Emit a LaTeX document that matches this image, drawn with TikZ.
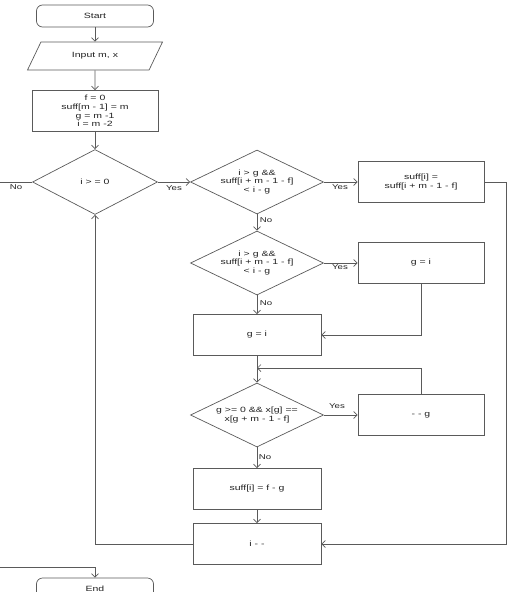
\documentclass[tikz,border=0pt]{standalone}
\usepackage{fontspec}
\setmainfont{Liberation Sans}[FakeStretch=1.38]
\usetikzlibrary{shapes.geometric,arrows.meta}
\definecolor{ln}{HTML}{5A5A5A}
\definecolor{tx}{HTML}{222222}
\tikzset{
  every node/.style={font=\fontsize{7.6}{8.6}\selectfont, text=tx, align=center, inner sep=0pt},
  term/.style={draw=ln, line width=0.7pt, rounded corners=6pt, minimum width=117pt, minimum height=22pt},
  io/.style={draw=ln, line width=0.7pt, trapezium, trapezium left angle=50, trapezium right angle=130, trapezium stretches=true, minimum width=135pt, minimum height=28pt},
  proc/.style={draw=ln, line width=0.7pt, minimum width=126pt, minimum height=41pt},
  dec/.style={draw=ln, line width=0.7pt, diamond, minimum width=133pt, minimum height=64pt},
  arr/.style={draw=ln, line width=0.7pt, -{Straight Barb[length=3.5pt,width=7pt]}},
  ln/.style={draw=ln, line width=0.7pt},
  lbl/.style={font=\fontsize{7}{8}\selectfont}
}
\begin{document}
\begin{tikzpicture}[x=1pt,y=-1pt]
\useasboundingbox (0,0) rectangle (511,592);
\clip (0,0) rectangle (511,592);
\node[term] (start) at (95,16) {Start};
\node[io] (input) at (95,56) {Input m, x};
\node[proc] (init) at (95,111) {f = 0\\suff[m - 1] = m\\g = m -1\\i = m -2};
\node[dec, minimum width=125pt, minimum height=65pt] (d1) at (95,182) {};
\node (d1t) at (d1) {i > = 0};
\node[dec] (d2) at (257,182) {};
\node (d2t) at (d2) {i > g \&\&\\suff[i + m - 1 - f]\\< i - g};
\node[proc] (b1) at (421,182) {suff[i] =\\suff[i + m - 1 - f]};
\node[dec] (d3) at (257,263) {};
\node (d3t) at (d3) {i > g \&\&\\suff[i + m - 1 - f]\\< i - g};
\node[proc] (b2) at (421,263) {g = i};
\node[proc, minimum width=128pt] (b3) at (257,335) {g = i};
\node[dec] (d4) at (257,415) {};
\node (d4t) at (d4) {g >= 0 \&\& x[g] ==\\x[g + m - 1 - f]};
\node[proc] (b4) at (421,415) {- - g};
\node[proc, minimum width=128pt] (b5) at (257,489) {suff[i] = f - g};
\node[proc, minimum width=128pt] (b6) at (257,544) {i - -};
\node[term] (end) at (95,589) {End};

\coordinate (noL) at (0,182);
\coordinate (endL) at (0,567);
\coordinate (mrg) at (257,368);
\coordinate (rt) at (506,544);

\draw[arr] (start) -- (input);
\draw[arr] (input) -- (init);
\draw[arr] (init) -- (d1);
\draw[arr] (d1.east) -- (d2.west);
\draw[ln] (d1.west) -- (noL);
\draw[arr] (endL) -| (end.north);
\draw[arr] (d2.east) -- (b1.west);
\draw[arr] (d2.south) -- (d3.north);
\draw[arr] (d3.east) -- (b2.west);
\draw[arr] (d3.south) -- (b3.north);
\draw[arr] (b2.south) |- (b3.east);
\draw[arr] (b3.south) -- (d4.north);
\draw[arr] (b4.north) |- (mrg);
\draw[arr] (d4.east) -- (b4.west);
\draw[arr] (d4.south) -- (b5.north);
\draw[arr] (b5.south) -- (b6.north);
\draw[arr] (b6.west) -| (d1.south);
\draw[arr] (b1.east) -| (rt) -- (b6.east);

\node[lbl] (lno1) at (16,187) {No};
\node[lbl] (lyes1) at (174,188) {Yes};
\node[lbl] (lyes2) at (340,187) {Yes};
\node[lbl] (lno2) at (266,220) {No};
\node[lbl] (lyes3) at (340,267) {Yes};
\node[lbl] (lno3) at (266,303) {No};
\node[lbl] (lyes4) at (337,406) {Yes};
\node[lbl] (lno4) at (265,457) {No};
\end{tikzpicture}
\end{document}
